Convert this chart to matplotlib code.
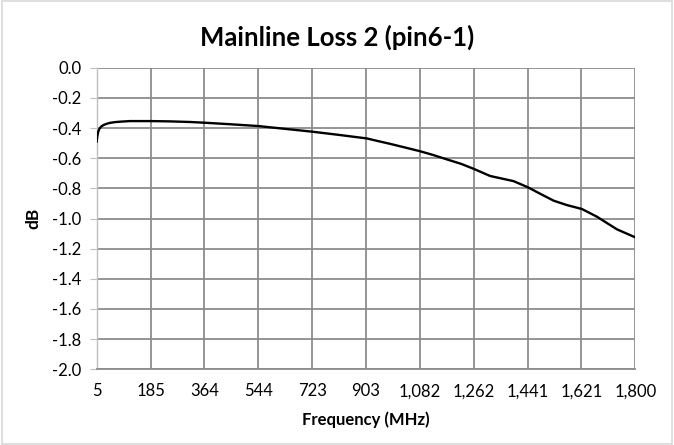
import matplotlib
matplotlib.use("Agg")
import matplotlib.pyplot as plt
import numpy as np

plt.rcParams['font.family'] = ['Lato', 'DejaVu Sans']

freq_mhz = [5, 7, 10, 14, 20, 28, 38, 49, 65, 83, 116, 183, 250, 316, 366, 450, 544, 630, 722,
            810, 905, 950, 983, 1030, 1081, 1125, 1172, 1220, 1263, 1316, 1394, 1442, 1485,
            1528, 1572, 1622, 1672, 1739, 1800]
loss_db = [-0.49, -0.455, -0.425, -0.405, -0.39, -0.38, -0.372, -0.366, -0.361, -0.358,
           -0.354, -0.354, -0.356, -0.36, -0.365, -0.375, -0.387, -0.405, -0.424,
           -0.445, -0.469, -0.49, -0.505, -0.528, -0.553, -0.578, -0.608, -0.638, -0.672,
           -0.718, -0.752, -0.793, -0.838, -0.882, -0.911, -0.937, -0.988, -1.072, -1.125]

x_ticks = list(np.linspace(5, 1800, 11))
x_tick_labels = ["5", "185", "364", "544", "723", "903", "1,082", "1,262", "1,441", "1,621", "1,800"]
y_ticks = [0.0, -0.2, -0.4, -0.6, -0.8, -1.0, -1.2, -1.4, -1.6, -1.8, -2.0]

fig = plt.figure(figsize=(6.74, 4.45), dpi=100)
ax = fig.add_axes([96.7/674, 1-369.3/445, (635.3-96.7)/674, (369.3-67.7)/445])

ax.plot(freq_mhz, loss_db, color='black', lw=1.7, zorder=3)

ax.set_xlim(5, 1800)
ax.set_ylim(-2.0, 0.0)
ax.set_xticks(x_ticks)
ax.set_xticklabels(x_tick_labels)
ax.set_yticks(y_ticks)
ax.set_yticklabels([f"{v:.1f}" for v in y_ticks])

ax.grid(True, color='#8c8c8c', lw=1.3)
ax.set_axisbelow(True)
for s in ['top', 'right']:
    ax.spines[s].set_visible(False)
ax.spines['left'].set_color('#bfbfbf')
ax.spines['bottom'].set_color('#8c8c8c')
ax.spines['left'].set_linewidth(1.0)
ax.spines['bottom'].set_linewidth(1.3)
ax.tick_params(axis='y', length=5, color='#bfbfbf', labelsize=12, pad=6)
ax.tick_params(axis='x', length=0, labelsize=12, pad=10)

ax.set_xlabel("Frequency (MHz)", fontsize=12, fontweight='bold', labelpad=9)
ax.set_ylabel("dB", fontsize=12.5, fontweight='bold', labelpad=8)
fig.text(0.5, 1-37/445, "Mainline Loss 2 (pin6-1)", ha='center', va='center',
         fontsize=18.5, fontweight='bold')

border = plt.Rectangle((0.003, 0.003), 0.994, 0.994, transform=fig.transFigure,
                       fill=False, edgecolor='#d9d9d9', lw=1.2)
fig.patches.append(border)

fig.savefig("out.png", dpi=100)
